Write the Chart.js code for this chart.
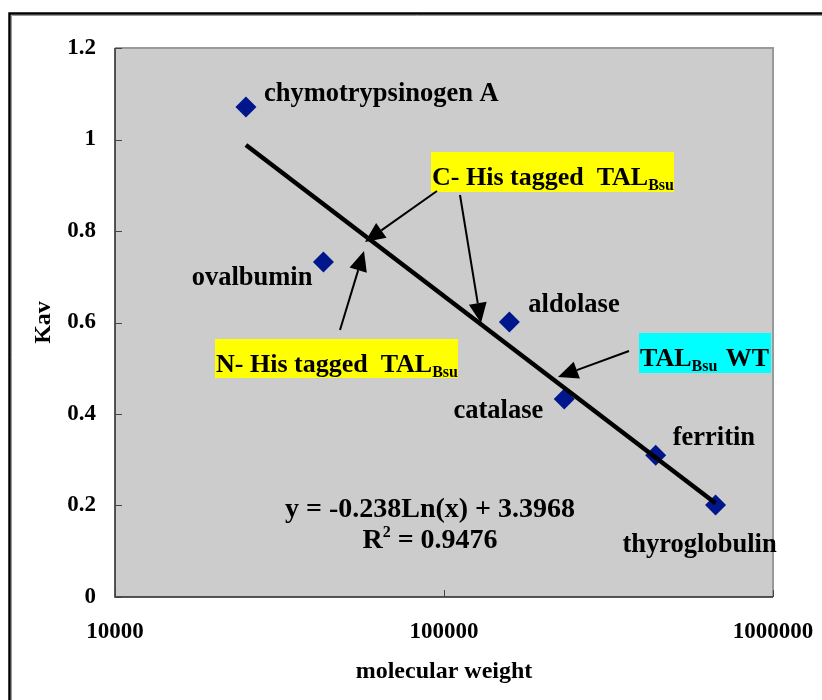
<!DOCTYPE html>
<html lang="en">
<head>
    <meta charset="UTF-8">
    <title>Kav vs molecular weight</title>
    <script src="https://cdn.jsdelivr.net/npm/chart.js"></script>
    <style>
        body { margin: 0; background: #fff; }
        #myChart { display: block; }
    </style>
</head>
<body>
    <canvas id="myChart" width="822" height="700"></canvas>
    <script>
        // standards
        const proteins = ['chymotrypsinogen A', 'ovalbumin', 'aldolase', 'catalase', 'ferritin', 'thyroglobulin']
        const molWeights = [25000, 43000, 158000, 232000, 440000, 669000]
        const kavValues = [1.071, 0.732, 0.601, 0.433, 0.310, 0.201]

        // ends of the log trendline
        const trendX = [25000, 669000]
        const trendY = [0.988, 0.205]

        const xTicks = [10000, 100000, 1000000]
        const yTicks = [0, 0.2, 0.4, 0.6, 0.8, 1, 1.2]

        const serif = "'Liberation Serif', 'Times New Roman', serif"

        // where each name sits relative to its marker: dx, dy (baseline), align
        const labelSpots = {
            'chymotrypsinogen A': [18, -6, 'left'],
            'ovalbumin': [-11, 23, 'right'],
            'aldolase': [19, -10, 'left'],
            'catalase': [-21, 19, 'right'],
            'ferritin': [17, -10, 'left'],
            'thyroglobulin': [-16, 47, 'center']
        }

        function arrow(ctx, x1, y1, x2, y2) {
            const ang = Math.atan2(y2 - y1, x2 - x1)
            const len = 20, half = 9
            const bx = x2 - len * Math.cos(ang), by = y2 - len * Math.sin(ang)
            ctx.beginPath()
            ctx.moveTo(x1, y1)
            ctx.lineTo(bx, by)
            ctx.stroke()
            ctx.beginPath()
            ctx.moveTo(x2, y2)
            ctx.lineTo(bx + half * Math.sin(ang), by - half * Math.cos(ang))
            ctx.lineTo(bx - half * Math.sin(ang), by + half * Math.cos(ang))
            ctx.closePath()
            ctx.fill()
        }

        // text with a subscript tail, returns the x after it
        function subText(ctx, main, sub, x, y) {
            ctx.font = 'bold 26px ' + serif
            ctx.fillText(main, x, y)
            x += ctx.measureText(main).width
            ctx.font = 'bold 16px ' + serif
            ctx.fillText(sub, x, y + 5)
            return x + ctx.measureText(sub).width
        }

        const decor = {
            id: 'decor',
            beforeDraw(chart) {
                const { ctx, chartArea: a } = chart
                ctx.save()
                ctx.fillStyle = '#fff'
                ctx.fillRect(0, 0, chart.width, chart.height)
                // outer frame
                ctx.strokeStyle = '#999'
                ctx.lineWidth = 1
                ctx.beginPath()
                ctx.moveTo(11.5, chart.height)
                ctx.lineTo(11.5, 15.5)
                ctx.lineTo(chart.width, 15.5)
                ctx.stroke()
                ctx.strokeStyle = '#000'
                ctx.lineWidth = 2.5
                ctx.beginPath()
                ctx.moveTo(9.5, chart.height)
                ctx.lineTo(9.5, 13.5)
                ctx.lineTo(chart.width, 13.5)
                ctx.stroke()
                ctx.fillStyle = '#cccccc'
                ctx.fillRect(a.left, a.top, a.right - a.left, a.bottom - a.top)
                ctx.restore()
            },
            beforeDatasetsDraw(chart) {
                const { ctx, chartArea: a, scales } = chart
                ctx.save()
                ctx.strokeStyle = '#999'
                ctx.lineWidth = 2
                ctx.beginPath()
                ctx.moveTo(a.left, a.top)
                ctx.lineTo(a.right, a.top)
                ctx.lineTo(a.right, a.bottom)
                ctx.stroke()
                ctx.strokeStyle = '#222'
                ctx.lineWidth = 1.5
                ctx.beginPath()
                ctx.moveTo(a.left, a.top)
                ctx.lineTo(a.left, a.bottom)
                ctx.lineTo(a.right, a.bottom)
                ctx.stroke()
                // inward tick marks
                ctx.strokeStyle = '#444'
                ctx.lineWidth = 1
                ctx.beginPath()
                yTicks.forEach(v => {
                    const y = Math.round(scales.y.getPixelForValue(v)) + 0.5
                    ctx.moveTo(a.left, y)
                    ctx.lineTo(a.left + 7, y)
                })
                xTicks.forEach(v => {
                    const x = Math.round(scales.x.getPixelForValue(v)) + 0.5
                    ctx.moveTo(x, a.bottom)
                    ctx.lineTo(x, a.bottom - 7)
                })
                ctx.stroke()
                ctx.restore()
            },
            afterDatasetsDraw(chart) {
                const { ctx, scales } = chart
                ctx.save()
                ctx.fillStyle = '#000'
                ctx.textBaseline = 'alphabetic'

                // protein names
                ctx.font = 'bold 26.5px ' + serif
                proteins.forEach((name, i) => {
                    const [dx, dy, align] = labelSpots[name]
                    ctx.textAlign = align
                    ctx.fillText(name,
                        scales.x.getPixelForValue(molWeights[i]) + dx,
                        scales.y.getPixelForValue(kavValues[i]) + dy)
                })
                ctx.textAlign = 'left'

                // highlighted tags
                ctx.fillStyle = '#ffff00'
                ctx.fillRect(431, 152, 243, 40)
                ctx.fillRect(215, 339, 243, 39)
                ctx.fillStyle = '#00ffff'
                ctx.fillRect(639, 333, 132, 40)

                ctx.fillStyle = '#000'
                subText(ctx, 'C- His tagged  TAL', 'Bsu', 432, 185)
                subText(ctx, 'N- His tagged  TAL', 'Bsu', 216, 372)
                let x = subText(ctx, 'TAL', 'Bsu', 640, 366)
                ctx.font = 'bold 26px ' + serif
                ctx.fillText(' WT', x + 2, 366)

                // arrows
                ctx.strokeStyle = '#000'
                ctx.lineWidth = 2
                arrow(ctx, 437, 191, 365, 242)
                arrow(ctx, 460, 195, 481, 323)
                arrow(ctx, 340, 330, 364, 251)
                arrow(ctx, 629, 351, 558, 377)

                // trendline equation
                const eqFont = 'bold 28px ' + serif
                ctx.textAlign = 'center'
                ctx.font = eqFont
                ctx.fillText('y = -0.238Ln(x) + 3.3968', 430, 517)
                const rest = ' = 0.9476'
                const wR = ctx.measureText('R').width, wRest = ctx.measureText(rest).width
                ctx.font = 'bold 16px ' + serif
                const w2 = ctx.measureText('2').width
                let x0 = 430 - (wR + w2 + wRest) / 2
                ctx.textAlign = 'left'
                ctx.font = eqFont
                ctx.fillText('R', x0, 548)
                ctx.font = 'bold 16px ' + serif
                ctx.fillText('2', x0 + wR, 537)
                ctx.font = eqFont
                ctx.fillText(rest, x0 + wR + w2, 548)
                ctx.restore()
            }
        }

        const tickFont = { family: serif, size: 23, weight: 'bold' }
        const titleFont = { family: serif, size: 24, weight: 'bold' }

        const ctx = document.getElementById('myChart')
        const myChart = new Chart(ctx, {
            type: 'scatter',
            data: {
                datasets: [{
                    type: 'line',
                    label: 'trend',
                    data: trendX.map((x, i) => ({ x: x, y: trendY[i] })),
                    borderColor: '#000',
                    borderWidth: 4.5,
                    pointRadius: 0,
                    fill: false
                }, {
                    label: 'standards',
                    data: molWeights.map((x, i) => ({ x: x, y: kavValues[i] })),
                    pointStyle: 'rectRot',
                    pointRadius: 10.5,
                    pointHoverRadius: 10.5,
                    backgroundColor: '#00168c',
                    borderWidth: 0
                }]
            },
            options: {
                responsive: false,
                animation: false,
                layout: { padding: { left: 0, top: 48, right: 49, bottom: 0 } },
                plugins: {
                    legend: { display: false },
                    tooltip: { enabled: false }
                },
                scales: {
                    x: {
                        type: 'logarithmic',
                        min: 10000,
                        max: 1000000,
                        afterBuildTicks: s => { s.ticks = xTicks.map(v => ({ value: v })) },
                        afterFit: s => {
                            s.height = 103
                            s.paddingLeft = 0
                            s.paddingRight = 0
                        },
                        grid: { display: false, drawTicks: false },
                        border: { display: false },
                        ticks: {
                            color: '#000',
                            font: tickFont,
                            padding: 21,
                            maxRotation: 0,
                            autoSkip: false,
                            callback: v => String(v)
                        },
                        title: {
                            display: true,
                            text: 'molecular weight',
                            color: '#000',
                            font: titleFont,
                            padding: { top: 0, bottom: 14 }
                        }
                    },
                    y: {
                        min: 0,
                        max: 1.2,
                        afterBuildTicks: s => { s.ticks = yTicks.map(v => ({ value: v })) },
                        afterFit: s => {
                            s.width = 115
                            s.paddingTop = 0
                            s.paddingBottom = 0
                        },
                        grid: { display: false, drawTicks: false },
                        border: { display: false },
                        ticks: {
                            color: '#000',
                            font: tickFont,
                            padding: 19,
                            callback: v => String(+v.toFixed(1))
                        },
                        title: {
                            display: true,
                            text: 'Kav',
                            color: '#000',
                            font: titleFont,
                            padding: { top: 29, bottom: 0 }
                        }
                    }
                }
            },
            plugins: [decor]
        })
    </script>
</body>
</html>
